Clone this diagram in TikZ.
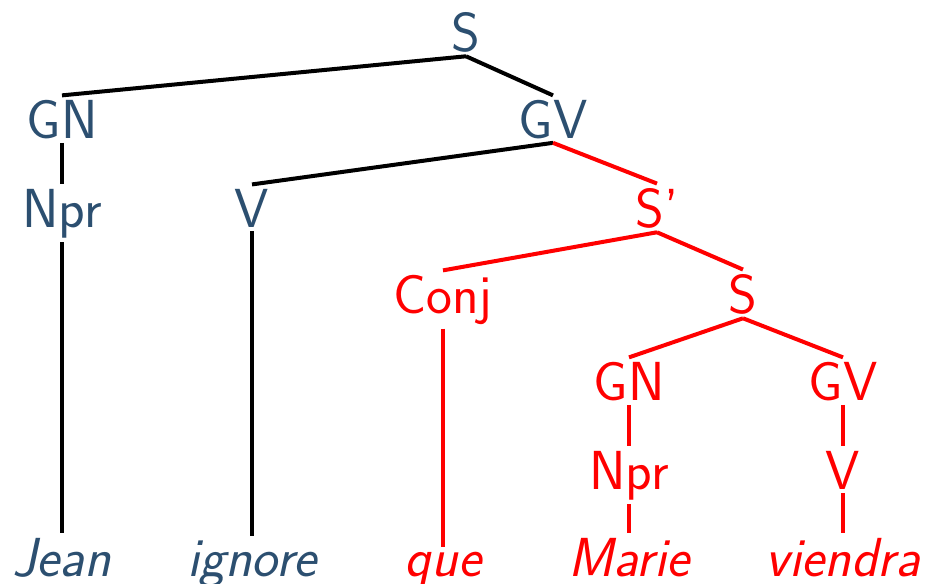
\documentclass[tikz,border=0pt]{standalone}
\definecolor{tb}{RGB}{44,79,112}
\definecolor{tr}{RGB}{255,0,0}
\begin{document}
\begin{tikzpicture}[x=0.5pt,y=-0.5pt,
  lab/.style={anchor=base,inner sep=2pt,font=\fontsize{27.5}{32}\selectfont\sffamily},
  bl/.style={lab,text=tb},
  rd/.style={lab,text=tr},
  lfb/.style={bl,font=\fontsize{27.5}{32}\selectfont\sffamily\itshape},
  lfr/.style={rd,font=\fontsize{27.5}{32}\selectfont\sffamily\itshape},
  eb/.style={line width=2pt,draw=black},
  er/.style={line width=2pt,draw=tr}]
\useasboundingbox (0,0) rectangle (928,584);
% level 0
\node[bl] (S) at (466,51) {S};
% level 1
\node[bl] (GN) at (62,138) {GN};
\node[bl] (GV) at (553,138) {GV};
% level 2
\node[bl] (Npr) at (62,227) {Npr};
\node[bl] (V) at (252,227) {V};
\node[rd] (Sp) at (657,227) {S'};
% level 3
\node[rd] (Conj) at (443,313) {Conj};
\node[rd] (S2) at (743,313) {S};
% level 4
\node[rd] (GN2) at (629,400) {GN};
\node[rd] (GV2) at (843,400) {GV};
% level 5
\node[rd] (Npr2) at (629,489) {Npr};
\node[rd] (V2) at (843,489) {V};
% leaves
\node[lfb] (Jean) at (62,576) {Jean};
\node[lfb] (ignore) at (252,576) {ignore};
\node[lfr] (que) at (443,576) {que};
\node[lfr] (Marie) at (629,576) {Marie};
\node[lfr] (viendra) at (843,576) {viendra};
% edges
\draw[eb] (S.south) -- (GN.north);
\draw[eb] (S.south) -- (GV.north);
\draw[eb] (GN.south) -- (Npr.north);
\draw[eb] (Npr.south) -- (Jean.north);
\draw[eb] (GV.south) -- (V.north);
\draw[eb] (V.south) -- (ignore.north);
\draw[er] (GV.south) -- (Sp.north);
\draw[er] (Sp.south) -- (Conj.north);
\draw[er] (Sp.south) -- (S2.north);
\draw[er] (Conj.south) -- (que.north);
\draw[er] (S2.south) -- (GN2.north);
\draw[er] (S2.south) -- (GV2.north);
\draw[er] (GN2.south) -- (Npr2.north);
\draw[er] (Npr2.south) -- (Marie.north);
\draw[er] (GV2.south) -- (V2.north);
\draw[er] (V2.south) -- (viendra.north);
\end{tikzpicture}
\end{document}
